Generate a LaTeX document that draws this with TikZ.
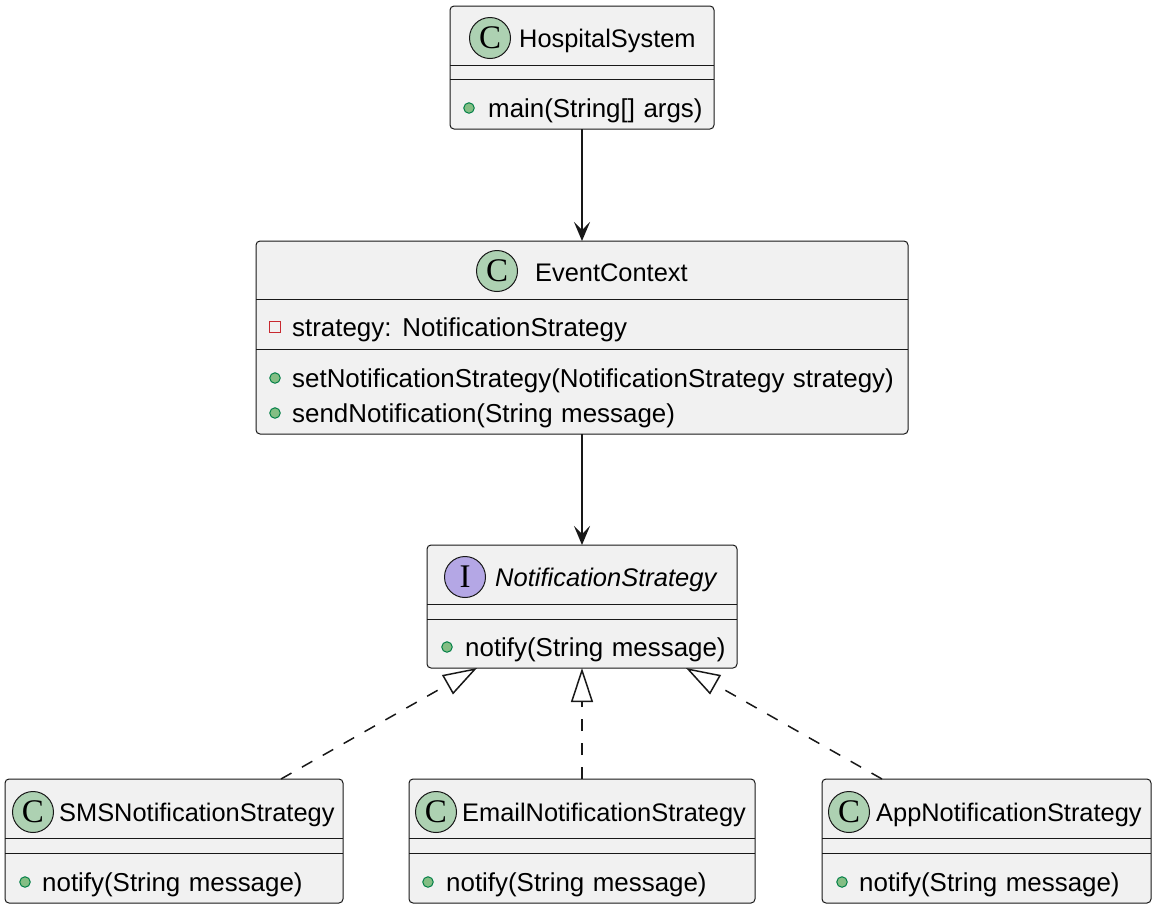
\documentclass[tikz,border=0pt]{standalone}
\usepackage{fontspec}
\setmainfont{Liberation Sans}
\newfontfamily\circfont{Liberation Serif}
\usetikzlibrary{arrows.meta}
\definecolor{boxfill}{HTML}{F1F1F1}
\definecolor{boxline}{HTML}{181818}
\definecolor{cfill}{HTML}{ADD1B2}
\definecolor{ifill}{HTML}{B4A7E5}
\definecolor{dotfill}{HTML}{84BE84}
\definecolor{dotline}{HTML}{038048}
\definecolor{privred}{HTML}{C82930}
\newcommand\widespaces{\spaceskip=8.5pt plus 1pt minus 1pt\relax}
\begin{document}
\begin{tikzpicture}[x=1pt,y=-1pt,
  classbox/.style={draw=boxline, fill=boxfill, line width=1pt, rounded corners=4pt, inner sep=0pt, outer sep=0pt},
  sepline/.style={draw=boxline, line width=1pt},
  txt/.style={anchor=base west, inner sep=0pt, font=\fontsize{25.9}{30}\selectfont, text=black, execute at begin node=\widespaces},
  ctitle/.style={txt, font=\fontsize{25.4}{30}\selectfont},
  ititle/.style={txt, font=\fontsize{25.5}{30}\selectfont\itshape},
  badge/.style={circle, draw=boxline, line width=1pt, minimum size=41pt, inner sep=0pt, font=\circfont\fontsize{33}{33}\selectfont},
  cbadge/.style={badge, fill=cfill},
  ibadge/.style={badge, fill=ifill},
  pubdot/.style={circle, draw=dotline, fill=dotfill, line width=1pt, minimum size=10.5pt, inner sep=0pt},
  privsq/.style={rectangle, draw=privred, fill=none, line width=1.3pt, minimum size=10.5pt, inner sep=0pt},
  assoc/.style={draw=boxline, line width=1.6pt, -{Stealth[length=19pt, width=16pt, inset=8pt]}},
  realize/.style={draw=boxline, line width=1.5pt, dash pattern=on 12pt off 12pt, -{Triangle[length=34pt, width=22pt, fill=white, line width=1.5pt]}}
]
\useasboundingbox (0,0) rectangle (1159,906);

% HospitalSystem
\node[classbox, minimum width=264pt, minimum height=123pt] (hs) at (582,67.5) {};
\draw[sepline] (hs.west |- 0,65) -- (hs.east |- 0,65);
\draw[sepline] (hs.west |- 0,79) -- (hs.east |- 0,79);
\node[cbadge] (hsb) at (490,38) {C};
\node[ctitle] (hst) at (519,47) {HospitalSystem};
\node[pubdot] (hsd1) at (469,108) {};
\node[txt] (hsm1) at (488,117) {main(String[] args)};

% EventContext
\node[classbox, minimum width=652pt, minimum height=193pt] (ec) at (582,337.5) {};
\draw[sepline] (ec.west |- 0,299) -- (ec.east |- 0,299);
\draw[sepline] (ec.west |- 0,349) -- (ec.east |- 0,349);
\node[cbadge] (ecb) at (497,271) {C};
\node[ctitle] (ect) at (535,281) {EventContext};
\node[privsq] (eca) at (275,327) {};
\node[txt] (ecat) at (292,336) {strategy: NotificationStrategy};
\node[pubdot] (ecd1) at (275,378) {};
\node[txt] (ecm1) at (292,387) {setNotificationStrategy(NotificationStrategy strategy)};
\node[pubdot] (ecd2) at (275,413) {};
\node[txt] (ecm2) at (292,422) {sendNotification(String message)};

% NotificationStrategy
\node[classbox, minimum width=310pt, minimum height=123pt] (ns) at (582,606.5) {};
\draw[sepline] (ns.west |- 0,604) -- (ns.east |- 0,604);
\draw[sepline] (ns.west |- 0,619) -- (ns.east |- 0,619);
\node[ibadge] (nsb) at (465,577) {I};
\node[ititle] (nst) at (495,586) {NotificationStrategy};
\node[pubdot] (nsd1) at (447,647) {};
\node[txt] (nsm1) at (465,656) {notify(String message)};

% SMSNotificationStrategy
\node[classbox, minimum width=338pt, minimum height=124pt] (sms) at (174,841) {};
\draw[sepline] (sms.west |- 0,838) -- (sms.east |- 0,838);
\draw[sepline] (sms.west |- 0,853) -- (sms.east |- 0,853);
\node[cbadge] (smsb) at (33,812) {C};
\node[ctitle] (smst) at (59,821) {SMSNotificationStrategy};
\node[pubdot] (smsd1) at (25,882) {};
\node[txt] (smsm1) at (42,891) {notify(String message)};

% EmailNotificationStrategy
\node[classbox, minimum width=346pt, minimum height=124pt] (em) at (582,841) {};
\draw[sepline] (em.west |- 0,838) -- (em.east |- 0,838);
\draw[sepline] (em.west |- 0,853) -- (em.east |- 0,853);
\node[cbadge] (emb) at (436,812) {C};
\node[ctitle] (emt) at (462,821) {EmailNotificationStrategy};
\node[pubdot] (emd1) at (428,882) {};
\node[txt] (emm1) at (446,891) {notify(String message)};

% AppNotificationStrategy
\node[classbox, minimum width=329pt, minimum height=124pt] (app) at (986.5,841) {};
\draw[sepline] (app.west |- 0,838) -- (app.east |- 0,838);
\draw[sepline] (app.west |- 0,853) -- (app.east |- 0,853);
\node[cbadge] (appb) at (849,812) {C};
\node[ctitle] (appt) at (876,821) {AppNotificationStrategy};
\node[pubdot] (appd1) at (842,882) {};
\node[txt] (appm1) at (859,891) {notify(String message)};

% connectors
\draw[assoc] (hs.south) -- (ec.north);
\draw[assoc] (ec.south) -- (ns.north);
\draw[realize] ([xshift=107pt]sms.north) -- ([xshift=-105pt]ns.south);
\draw[realize] (em.north) -- (ns.south);
\draw[realize] ([xshift=-104.5pt]app.north) -- ([xshift=104pt]ns.south);
\end{tikzpicture}
\end{document}
